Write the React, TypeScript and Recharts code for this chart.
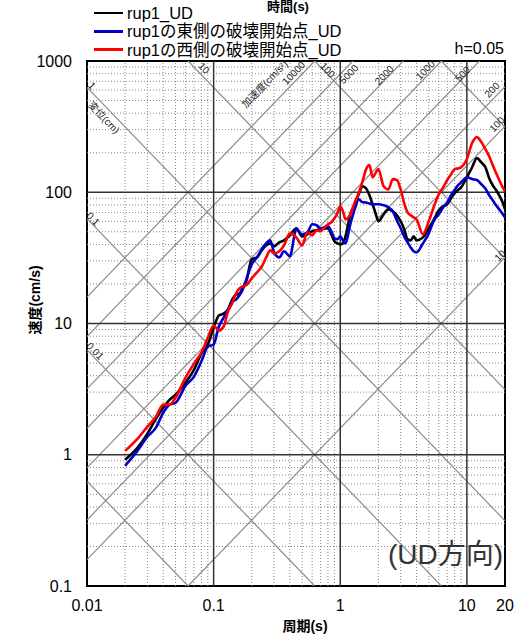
import React from 'react';
import {
  LineChart,
  Line,
  XAxis,
  YAxis,
  ReferenceLine,
  ReferenceDot,
  ReferenceArea,
} from 'recharts';

// period (s)
const periods = [
  0.02, 0.025, 0.03, 0.035, 0.04, 0.045, 0.05, 0.06, 0.07, 0.08, 0.09,
  0.1, 0.11, 0.12, 0.13, 0.14, 0.15, 0.16, 0.17, 0.18,
  0.2, 0.22, 0.24, 0.26, 0.28, 0.3, 0.33, 0.36,
  0.4, 0.45, 0.5, 0.55, 0.6, 0.65, 0.7, 0.75, 0.8, 0.85, 0.9, 0.95,
  1.0, 1.05, 1.1, 1.2, 1.3, 1.4, 1.5, 1.6, 1.7, 1.8, 1.9,
  2.0, 2.2, 2.4, 2.6, 2.8, 3.0, 3.2, 3.4, 3.6, 3.8,
  4.0, 4.5, 5, 5.5, 6, 6.5, 7, 7.5, 8, 8.5, 9,
  10, 11, 12, 13, 14, 15, 16, 17, 18, 19, 20,
];

// pseudo velocity response (cm/s)
const rup1UD = [
  0.916, 1.13, 1.45, 1.88, 2.28, 2.63, 2.87, 3.55, 4.46, 5.9, 6.92,
  9.32, 11.5, 11.9, 12.8, 15.2, 16.6, 16.9, 18.8, 20.6,
  30.8, 31.9, 36.1, 39.4, 40.8, 38.7, 41.5, 43.0,
  47.0, 53.1, 46.1, 47.8, 50.4, 51.3, 52.2, 53.1, 53.1, 47.8, 42.3, 40.8,
  40.1, 40.8, 46.1, 67.9, 81.0, 96.6, 111, 107, 94.8, 81.0, 69.2,
  60.1, 67.9, 74.1, 71.6, 66.7, 60.1, 52.2, 43.8, 43.0, 46.1,
  43.0, 45.3, 53.1, 62.2, 72.9, 78.2, 81.0, 89.9, 98.2, 104, 109,
  130, 155, 182, 169, 155, 128, 113, 104, 94.8, 85.3, 74.1,
];

const rup1East = [
  0.824, 1.07, 1.37, 1.61, 2.09, 2.41, 2.49, 3.36, 3.94, 5.13, 6.67,
  6.92, 9.49, 11.1, 12.8, 14.7, 15.2, 16.4, 18.2, 21.3,
  28.2, 31.9, 36.7, 40.8, 43.0, 34.8, 31.9, 35.5,
  32.5, 52.2, 47.8, 49.5, 57.0, 56.0, 53.1, 54.1, 55.0, 50.4, 44.6, 43.8,
  46.1, 43.0, 40.8, 57.0, 74.1, 88.4, 83.9, 83.5, 82.0, 81.0, 81.0,
  81.0, 79.6, 76.8, 71.6, 61.1, 53.1, 46.1, 41.5, 38.0, 35.5,
  34.8, 40.8, 48.6, 61.1, 67.9, 76.8, 83.9, 94.8, 104, 113, 119,
  130, 126, 124, 115, 107, 94.8, 86.9, 79.6, 74.1, 69.2, 64.4,
];

const rup1West = [
  1.07, 1.32, 1.64, 1.95, 2.41, 2.41, 2.72, 3.87, 4.95, 6.01, 7.82,
  9.66, 8.84, 9.49, 12.4, 14.2, 16.9, 18.5, 19.2, 19.5,
  22.1, 24.5, 27.2, 31.9, 36.1, 34.2, 35.5, 39.4,
  48.6, 45.3, 39.4, 49.5, 47.0, 51.3, 50.4, 54.1, 57.0, 59.0, 63.4, 69.2,
  78.2, 71.6, 62.2, 67.9, 83.4, 99, 121, 150, 161, 130, 140,
  150, 111, 105, 126, 124, 105, 82.4, 70.3, 66.7, 64.4,
  62.2, 47.8, 60.1, 78.2, 96.6, 109, 124, 137, 150, 152, 155,
  179, 237, 263, 241, 213, 188, 161, 140, 124, 111, 102,
];

const seriesNames = ['rup1_UD', 'rup1の東側の破壊開始点_UD', 'rup1の西側の破壊開始点_UD'];
const seriesColors = ['#000000', '#0000cc', '#ff0000'];

const xTicks = [0.01, 0.1, 1, 10, 20];
const yTicks = [0.1, 1, 10, 100, 1000];
const xMajor = [0.1, 1, 10];
const yMajor = [1, 10, 100];
const xMinor = [
  0.02, 0.03, 0.04, 0.05, 0.06, 0.07, 0.08, 0.09,
  0.2, 0.3, 0.4, 0.5, 0.6, 0.7, 0.8, 0.9,
  2, 3, 4, 5, 6, 7, 8, 9,
];
const yMinor = [
  0.2, 0.3, 0.4, 0.5, 0.6, 0.7, 0.8, 0.9,
  2, 3, 4, 5, 6, 7, 8, 9,
  20, 30, 40, 50, 60, 70, 80, 90,
  200, 300, 400, 500, 600, 700, 800, 900,
];

// tripartite lines: displacement (cm) and acceleration (cm/s2)
const dispValues = [0.001, 0.01, 0.1, 1, 10, 100, 1000];
const accValues = [10, 100, 200, 500, 1000, 2000, 5000, 10000];

// labels on those lines: [kind, value, edge, text, dx, dy]
const diagLabels: [string, number, string, string, number, number][] = [
  ['d', 1, 'left', '1', 5, -2],
  ['d', 1, 'left', '変位(cm)', 17, 30],
  ['d', 0.1, 'left', '0.1', 6, 0],
  ['d', 0.01, 'left', '0.01', 8, 1],
  ['d', 10, 'top', '10', 16, 7],
  ['d', 100, 'top', '100', 13, 9],
  ['a', 10000, 'top', '10000', -21, 12],
  ['a', 10000, 'top', '加速度(cm/s²)', -50, 23],
  ['a', 5000, 'top', '5000', -4, 13],
  ['a', 2000, 'top', '2000', -19, 14],
  ['a', 1000, 'top', '1000', -16, 9],
  ['a', 500, 'top', '500', -17, 13],
  ['a', 200, 'right', '200', -13, 3],
  ['a', 100, 'right', '100', -8, -2],
  ['a', 10, 'right', '10', -5, -2],
];

const X_MIN = 0.01;
const X_MAX = 20;
const Y_MIN = 0.1;
const Y_MAX = 1000;
const TWO_PI = 2 * Math.PI;

const FONT = "'Liberation Sans', 'Noto Sans CJK JP', Arial, sans-serif";

const data = periods.map((t, i) => ({
  T: t,
  ud: rup1UD[i],
  east: rup1East[i],
  west: rup1West[i],
}));

function dispSegment(d: number) {
  const t1 = Math.max(X_MIN, (TWO_PI * d) / Y_MAX);
  const t2 = Math.min(X_MAX, (TWO_PI * d) / Y_MIN);
  return [
    { x: t1, y: (TWO_PI * d) / t1 },
    { x: t2, y: (TWO_PI * d) / t2 },
  ];
}

function accSegment(a: number) {
  const t1 = Math.max(X_MIN, (TWO_PI * Y_MIN) / a);
  const t2 = Math.min(X_MAX, (TWO_PI * Y_MAX) / a);
  return [
    { x: t1, y: (a * t1) / TWO_PI },
    { x: t2, y: (a * t2) / TWO_PI },
  ];
}

function labelAnchor(kind: string, v: number, edge: string) {
  if (kind === 'd') {
    if (edge === 'left') return { x: X_MIN, y: (TWO_PI * v) / X_MIN };
    return { x: (TWO_PI * v) / Y_MAX, y: Y_MAX };
  }
  if (edge === 'right') return { x: X_MAX, y: (v * X_MAX) / TWO_PI };
  return { x: (TWO_PI * Y_MAX) / v, y: Y_MAX };
}

const fmt = (v: number) => String(v);

export default function App() {
  return (
    <div style={{ position: 'absolute', left: 0, top: 0, width: 515, height: 635, background: '#fff', fontFamily: FONT }}>
      <LineChart
        width={515}
        height={635}
        data={data}
        margin={{ top: 61, right: 10, bottom: 9, left: 27 }}
      >
        <XAxis
          dataKey="T"
          type="number"
          scale="log"
          domain={[X_MIN, X_MAX]}
          allowDataOverflow
          ticks={xTicks}
          interval={0}
          tickFormatter={fmt}
          axisLine={false}
          tickLine={false}
          tickSize={0}
          tickMargin={14}
          height={40}
          tick={{ fill: '#000', fontSize: 16, fontFamily: FONT }}
        />
        <YAxis
          type="number"
          scale="log"
          domain={[Y_MIN, Y_MAX]}
          allowDataOverflow
          ticks={yTicks}
          interval={0}
          tickFormatter={fmt}
          axisLine={false}
          tickLine={false}
          tickSize={0}
          tickMargin={15}
          width={60}
          tick={{ fill: '#000', fontSize: 16, fontFamily: FONT }}
        />

        {xMinor.map((v) => (
          <ReferenceLine key={'xm' + v} x={v} stroke="#8a8a8a" strokeDasharray="1 2" strokeWidth={1} ifOverflow="hidden" />
        ))}
        {yMinor.map((v) => (
          <ReferenceLine key={'ym' + v} y={v} stroke="#8a8a8a" strokeDasharray="1 2" strokeWidth={1} ifOverflow="hidden" />
        ))}

        {dispValues.map((d) => (
          <ReferenceLine key={'d' + d} segment={dispSegment(d)} stroke="#8c8c8c" strokeWidth={1.2} ifOverflow="hidden" />
        ))}
        {accValues.map((a) => (
          <ReferenceLine key={'a' + a} segment={accSegment(a)} stroke="#8c8c8c" strokeWidth={1.2} ifOverflow="hidden" />
        ))}

        {xMajor.map((v) => (
          <ReferenceLine key={'xM' + v} x={v} stroke="#333" strokeWidth={1.5} ifOverflow="hidden" />
        ))}
        {yMajor.map((v) => (
          <ReferenceLine key={'yM' + v} y={v} stroke="#333" strokeWidth={1.5} ifOverflow="hidden" />
        ))}

        {diagLabels.map(([kind, v, edge, text, dx, dy], i) => {
          const p = labelAnchor(kind, v, edge);
          const rot = kind === 'd' ? 46 : -46;
          return (
            <ReferenceDot
              key={'lbl' + i}
              x={p.x}
              y={p.y}
              r={0}
              ifOverflow="visible"
              shape={(props: any) => {
                const cx = props.cx + dx;
                const cy = props.cy + dy;
                return (
                  <text
                    x={cx}
                    y={cy}
                    fontSize={10}
                    fontFamily={FONT}
                    fill="#222"
                    textAnchor="middle"
                    dominantBaseline="central"
                    transform={`rotate(${rot} ${cx} ${cy})`}
                  >
                    {text}
                  </text>
                );
              }}
            />
          );
        })}

        <Line dataKey="ud" name={seriesNames[0]} stroke={seriesColors[0]} strokeWidth={2.6} dot={false} type="monotone" isAnimationActive={false} />
        <Line dataKey="east" name={seriesNames[1]} stroke={seriesColors[1]} strokeWidth={2.6} dot={false} type="monotone" isAnimationActive={false} />
        <Line dataKey="west" name={seriesNames[2]} stroke={seriesColors[2]} strokeWidth={2.6} dot={false} type="monotone" isAnimationActive={false} />

        <ReferenceArea x1={X_MIN} x2={X_MAX} y1={Y_MIN} y2={Y_MAX} fill="none" stroke="#000" strokeWidth={2} ifOverflow="visible" />
      </LineChart>

      {/* legend */}
      {seriesNames.map((name, i) => (
        <div key={name} style={{ position: 'absolute', left: 94, top: 4 + i * 18.3, height: 18, display: 'flex', alignItems: 'center' }}>
          <div style={{ width: 29, height: 2.5, background: seriesColors[i] }} />
          <span style={{ marginLeft: 4, fontSize: 16.5, lineHeight: '18px', color: '#000', whiteSpace: 'nowrap' }}>{name}</span>
        </div>
      ))}
      <div style={{ position: 'absolute', left: 238, width: 100, top: 0, textAlign: 'center', fontSize: 13, lineHeight: '14px', fontWeight: 'bold', color: '#000' }}>
        時間(s)
      </div>
      <div style={{ position: 'absolute', right: 11, top: 40, fontSize: 16, lineHeight: '18px', color: '#000' }}>h=0.05</div>
      <div style={{ position: 'absolute', right: 12, top: 540, fontSize: 28, lineHeight: '30px', color: '#333', whiteSpace: 'nowrap' }}>(UD方向)</div>
      <div style={{ position: 'absolute', left: 255, width: 100, top: 618, textAlign: 'center', fontSize: 14, lineHeight: '16px', fontWeight: 'bold', color: '#000' }}>
        周期(s)
      </div>
      <div
        style={{
          position: 'absolute',
          left: 35,
          top: 300,
          transform: 'translate(-50%, -50%) rotate(-90deg)',
          fontSize: 14,
          lineHeight: '16px',
          fontWeight: 'bold',
          color: '#000',
          whiteSpace: 'nowrap',
        }}
      >
        速度(cm/s)
      </div>
    </div>
  );
}
